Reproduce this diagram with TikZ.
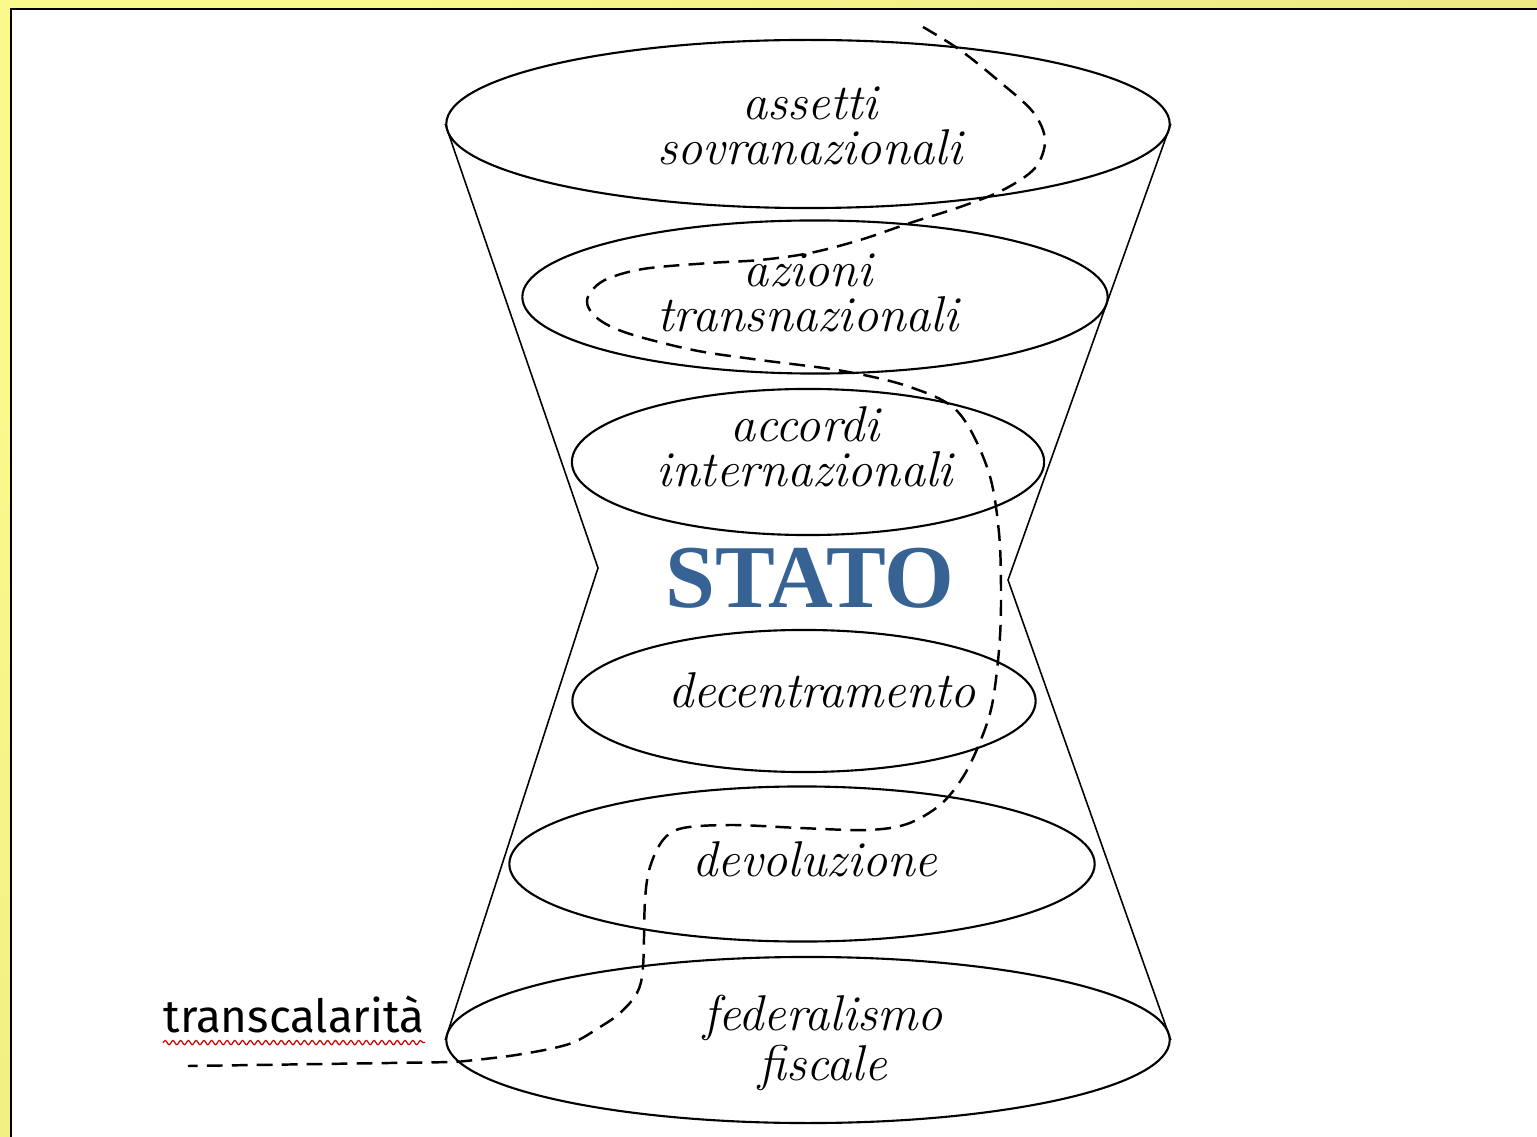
\documentclass[tikz,border=0pt]{standalone}
\usepackage{fontspec}
\usepackage{tikz}
\usetikzlibrary{shapes.geometric}
\usetikzlibrary{decorations.pathmorphing}
\usepackage{xcolor}
\newfontfamily\statofont{Liberation Serif}
\newfontfamily\handfont{Fira Sans}
\definecolor{ylwA}{RGB}{250,249,140}
\definecolor{ylwB}{RGB}{226,225,126}
\definecolor{statoblue}{RGB}{54,98,148}

\begin{document}
\begin{tikzpicture}[x=0.01cm,y=-0.01cm,
  disc/.style={draw, ellipse, line width=0.6pt, inner sep=0pt},
  lvl/.style={font=\fontsize{14.3}{12.8}\selectfont\itshape, align=center, inner sep=0pt},
  cone/.style={line width=0.45pt},
  route/.style={dashed, dash pattern=on 4.5pt off 2.6pt, line width=0.7pt}]
\useasboundingbox (0,0) rectangle (1537,1137);
\fill [top color=ylwA, bottom color=ylwB, shading angle=45] (0,0) rectangle (1537,1137);
\fill [white] (11,9) rectangle (1537,1137);
\draw [line width=0.7pt] (11,1137) -- (11,9) -- (1537,9);

\node [disc, minimum width=7.23cm, minimum height=1.68cm] (sovr) at (808,124) {}; % top
\node [disc, minimum width=5.85cm, minimum height=1.53cm] (trans) at (815,297) {};
\node [disc, minimum width=4.72cm, minimum height=1.46cm] (inter) at (808,462) {};
\node [disc, minimum width=4.63cm, minimum height=1.42cm] (decen) at (804,701) {};
\node [disc, minimum width=5.85cm, minimum height=1.55cm] (devol) at (802,864) {};
\node [disc, minimum width=7.23cm, minimum height=1.66cm] (fisc) at (808,1040) {}; % bottom

\coordinate (waistL) at (598,568);
\coordinate (waistR) at (1008,580);
\draw [cone] (sovr.west) -- (waistL) -- (fisc.west);
\draw [cone] (sovr.east) -- (waistR) -- (fisc.east);

\node [lvl] (tsovr) at (810,126) {assetti\\sovranazionali};
\node [lvl] (ttrans) at (808,293) {azioni\\transnazionali};
\node [lvl] (tinter) at (805,447) {accordi\\internazionali};
\node [font=\statofont\bfseries\fontsize{25.5}{28}\selectfont, text=statoblue, inner sep=0pt] (stato) at (810,578) {STATO};
\node [lvl] (tdecen) at (822,690) {decentramento};
\node [lvl] (tdevol) at (815,859) {devoluzione};
\node [lvl] (tfisc) at (823,1043) {federalismo\\fiscale};

\node [font=\handfont\fontsize{13}{15}\selectfont, inner sep=0pt] (transc) at (294,1014) {transcalarità};
\draw [red!80!black, line width=0.35pt, decorate, decoration={snake, amplitude=0.6pt, segment length=2.2pt}]
  ([yshift=-3pt]transc.base west) -- ([yshift=-3pt]transc.base east);

% percorso
\coordinate (rstart) at (923,27);
\coordinate (rend) at (188,1066);
\draw [route] plot [smooth, tension=0.55] coordinates {(rstart) (960,50) (1000,82) (1033,112) (1045,140)
  (1035,168) (1003,190) (960,207) (910,223) (860,240) (810,253) (760,260) (710,263) (643,269)
  (603,281) (587,300) (597,318) (627,333) (693,350) (760,360) (843,371) (910,387) (958,412)
  (988,470) (999,533) (1001,600) (999,650) (992,705) (980,742) (963,777) (940,805) (907,824)
  (867,830) (800,828) (733,825) (683,828) (663,840) (650,867) (645,900) (643,967) (637,993)
  (620,1013) (600,1027) (569,1044) (516,1055) (456,1062)} -- (rend);

\end{tikzpicture}
\end{document}
